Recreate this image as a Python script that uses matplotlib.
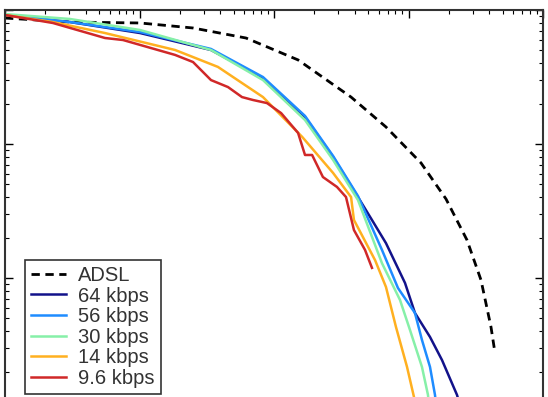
import matplotlib
matplotlib.use("Agg")
import matplotlib.pyplot as plt

plt.rcParams['font.family'] = ['Liberation Sans', 'DejaVu Sans']

labels = ["ADSL", "64 kbps", "56 kbps", "30 kbps", "14 kbps", "9.6 kbps"]
colors = ["black", "#12128a", "#1e8cff", "#86f0a8", "#ffb020", "#d02828"]

adsl_x = [1, 3.04, 10.1, 25.0, 61.9, 151, 374, 680, 1239, 1900, 2722, 3459, 4105, 4396]
adsl_y = [0.871, 0.813, 0.80, 0.734, 0.618, 0.424, 0.224, 0.134, 0.0722, 0.0389, 0.0192, 0.00966, 0.00431, 0.00276]

k64_x = [1, 3.04, 10.1, 34.0, 82.8, 170, 275, 421, 535, 680, 942, 1117, 1445, 1775, 2295, 2540]
k64_y = [0.918, 0.813, 0.673, 0.503, 0.311, 0.159, 0.080, 0.0402, 0.0271, 0.0182, 0.00918, 0.00548, 0.00363, 0.00244, 0.00134, 0.00093]

k56_x = [1, 3.04, 10.1, 34.0, 82.8, 170, 275, 421, 635, 835, 1117, 1259, 1445, 1574, 1630]
k56_y = [0.918, 0.813, 0.685, 0.512, 0.316, 0.162, 0.0814, 0.0409, 0.0162, 0.00842, 0.00548, 0.00345, 0.00217, 0.00134, 0.00095]

k30_x = [1, 3.04, 10.1, 34.0, 82.8, 170, 275, 421, 635, 865, 1026, 1259, 1396, 1445]
k30_y = [0.933, 0.857, 0.709, 0.503, 0.300, 0.151, 0.076, 0.0382, 0.0129, 0.00685, 0.00409, 0.00217, 0.00134, 0.00095]

k14_x = [1, 2.27, 5.54, 18.4, 38.3, 82.8, 162, 275, 374, 393, 564, 680, 807, 975, 1099, 1117]
k14_y = [0.918, 0.813, 0.673, 0.503, 0.376, 0.224, 0.113, 0.0608, 0.0402, 0.0271, 0.0136, 0.00857, 0.00431, 0.00217, 0.00129, 0.00093]

k96_x = [1, 2.27, 5.54, 7.54, 18.4, 25.0, 34.0, 45.5, 57.8, 69.8, 88.7, 113, 151, 170, 192, 231, 294, 343, 393, 475, 535]
k96_y = [0.918, 0.80, 0.618, 0.597, 0.462, 0.409, 0.300, 0.266, 0.224, 0.213, 0.202, 0.170, 0.121, 0.0828, 0.0828, 0.0567, 0.0478, 0.0402, 0.0228, 0.0162, 0.0119]

series = [(adsl_x, adsl_y), (k64_x, k64_y), (k56_x, k56_y),
          (k30_x, k30_y), (k14_x, k14_y), (k96_x, k96_y)]

W, H = 548, 397
fig = plt.figure(figsize=(W / 100, H / 100), dpi=100)
ax = fig.add_axes([5 / W, (H - 412) / H, 538 / W, 402 / H])

for i, ((x, y), lab, c) in enumerate(zip(series, labels, colors)):
    if i == 0:
        ax.plot(x, y, color=c, lw=2, ls=(0, (3, 2)), label=lab)
    else:
        ax.plot(x, y, color=c, lw=1.8, label=lab)

ax.set_xscale("log")
ax.set_yscale("log")
ax.set_xlim(1, 1e4)
ax.set_ylim(1e-3, 1)

ax.tick_params(which="both", direction="in", top=True, right=True,
               labelbottom=False, labelleft=False)
ax.tick_params(which="major", length=6, width=1)
ax.tick_params(which="minor", length=3, width=0.8)
for s in ax.spines.values():
    s.set_linewidth(1.5)
    s.set_color("#333333")

leg = ax.legend(loc="lower left", bbox_to_anchor=(25 / W, 3 / H),
                bbox_transform=fig.transFigure, borderaxespad=0,
                fancybox=False, edgecolor="#333333", framealpha=1,
                fontsize=14.5, handlelength=1.75, labelspacing=0.08,
                handletextpad=0.6, borderpad=0.3)
leg.get_frame().set_linewidth(1.2)
for t in leg.get_texts():
    t.set_color("#333333")

fig.savefig("out.png", dpi=100)
